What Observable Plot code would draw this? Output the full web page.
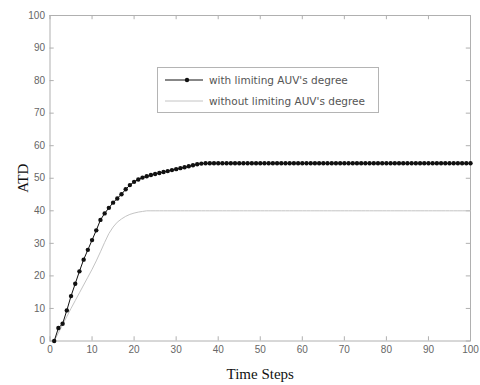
<!DOCTYPE html>
<html>
<head>
<meta charset="utf-8">
<script src="https://cdn.jsdelivr.net/npm/d3@7"></script>
<script src="https://cdn.jsdelivr.net/npm/@observablehq/plot@0.6"></script>
<style>
  html, body { margin: 0; padding: 0; background: #fff; }
  #wrap { position: relative; width: 480px; height: 385px; }
  #legend { position: absolute; left: 157px; top: 67px; width: 222px; height: 46px; box-sizing: border-box;
    border: 1px solid #b4b4b4; background: #fff; font-family: "DejaVu Sans", Verdana, sans-serif; font-size: 10.5px; color: #555; }
  .row { position: absolute; left: 0; height: 14px; display: flex; align-items: center; white-space: nowrap; }
  .row svg { margin-left: 7px; margin-right: 6px; }
</style>
</head>
<body>
<div id="wrap">
  <div id="chart"></div>
  <div id="legend"></div>
</div>
<script>
const seriesNames = ["with limiting AUV's degree", "without limiting AUV's degree"];
const steps = d3.range(1, 101);
const withLimit = [
  0, 4, 5.3, 9.4, 13.8, 17.6, 21.4, 25, 28, 31,
  34, 37.2, 39.2, 40.9, 42.5, 43.8, 45.1, 46.6, 47.9, 48.9,
  49.6, 50.2, 50.6, 51, 51.3, 51.6, 51.9, 52.2, 52.5, 52.8,
  53.1, 53.4, 53.7, 54, 54.3, 54.5, 54.6, 54.6, 54.6, 54.6,
  54.6, 54.6, 54.6, 54.6, 54.6, 54.6, 54.6, 54.6, 54.6, 54.6,
  54.6, 54.6, 54.6, 54.6, 54.6, 54.6, 54.6, 54.6, 54.6, 54.6,
  54.6, 54.6, 54.6, 54.6, 54.6, 54.6, 54.6, 54.6, 54.6, 54.6,
  54.6, 54.6, 54.6, 54.6, 54.6, 54.6, 54.6, 54.6, 54.6, 54.6,
  54.6, 54.6, 54.6, 54.6, 54.6, 54.6, 54.6, 54.6, 54.6, 54.6,
  54.6, 54.6, 54.6, 54.6, 54.6, 54.6, 54.6, 54.6, 54.6, 54.6
];
const withoutLimit = [
  0, 2.5, 5, 7.5, 10, 12.4, 14.8, 17.2, 19.6, 22,
  24.6, 27.4, 30.3, 33, 35, 36.5, 37.5, 38.3, 38.9, 39.3,
  39.6, 39.8, 40, 40, 40, 40, 40, 40, 40, 40,
  40, 40, 40, 40, 40, 40, 40, 40, 40, 40,
  40, 40, 40, 40, 40, 40, 40, 40, 40, 40,
  40, 40, 40, 40, 40, 40, 40, 40, 40, 40,
  40, 40, 40, 40, 40, 40, 40, 40, 40, 40,
  40, 40, 40, 40, 40, 40, 40, 40, 40, 40,
  40, 40, 40, 40, 40, 40, 40, 40, 40, 40,
  40, 40, 40, 40, 40, 40, 40, 40, 40, 40
];
const xTicks = [0, 10, 20, 30, 40, 50, 60, 70, 80, 90, 100];
const yTicks = [0, 10, 20, 30, 40, 50, 60, 70, 80, 90, 100];
const xLabel = "Time Steps";
const yLabel = "ATD";

const dataA = steps.map((t, i) => ({t, v: withLimit[i]}));
const dataB = steps.map((t, i) => ({t, v: withoutLimit[i]}));

const tickColor = "#b0b0b0";
const chart = Plot.plot({
  width: 480,
  height: 385,
  marginLeft: 49.5,
  marginRight: 10,
  marginTop: 15,
  marginBottom: 44.5,
  style: {fontFamily: "Liberation Sans, Arial, sans-serif", fontSize: "10px", background: "#fff"},
  x: {domain: [0, 100]},
  y: {domain: [0, 100]},
  marks: [
    Plot.frame({stroke: tickColor}),
    // inward tick marks
    Plot.ruleY(yTicks, {y: d => d, x1: 0, x2: 1, stroke: tickColor}),
    Plot.ruleY(yTicks, {y: d => d, x1: 99, x2: 100, stroke: tickColor}),
    Plot.ruleX(xTicks, {x: d => d, y1: 0, y2: 1.3, stroke: tickColor}),
    Plot.ruleX(xTicks, {x: d => d, y1: 98.7, y2: 100, stroke: tickColor}),
    Plot.axisX({ticks: xTicks, tickSize: 0, tickPadding: 5, color: "#666", label: null}),
    Plot.axisY({ticks: yTicks, tickSize: 0, tickPadding: 5, color: "#666", label: null}),
    Plot.axisX({ticks: [], label: xLabel, labelAnchor: "center", labelArrow: "none", labelOffset: 38,
      fontFamily: "Liberation Serif, Times New Roman, serif", fontSize: 15, color: "#111"}),
    Plot.axisY({ticks: [], label: yLabel, labelAnchor: "center", labelArrow: "none", labelOffset: 33,
      fontFamily: "Liberation Serif, Times New Roman, serif", fontSize: 15, color: "#111"}),
    Plot.line(dataB, {x: "t", y: "v", stroke: "#c4c4c4", strokeWidth: 1}),
    Plot.line(dataA, {x: "t", y: "v", stroke: "#111", strokeWidth: 1}),
    Plot.dot(dataA, {x: "t", y: "v", r: 2.2, fill: "#111", stroke: "none"})
  ]
});
document.getElementById("chart").appendChild(chart);

const legend = document.getElementById("legend");
const styles = [
  {stroke: "#111", dot: true, top: 5},
  {stroke: "#c4c4c4", dot: false, top: 26}
];
seriesNames.forEach((name, i) => {
  const s = styles[i];
  const row = document.createElement("div");
  row.className = "row";
  row.style.top = s.top + "px";
  row.innerHTML = `<svg width="38" height="14"><line x1="0" y1="7" x2="38" y2="7" stroke="${s.stroke}" stroke-width="1"/>` +
    (s.dot ? `<circle cx="22" cy="7" r="2.2" fill="#111"/>` : "") + `</svg><span>${name}</span>`;
  legend.appendChild(row);
});
</script>
</body>
</html>
